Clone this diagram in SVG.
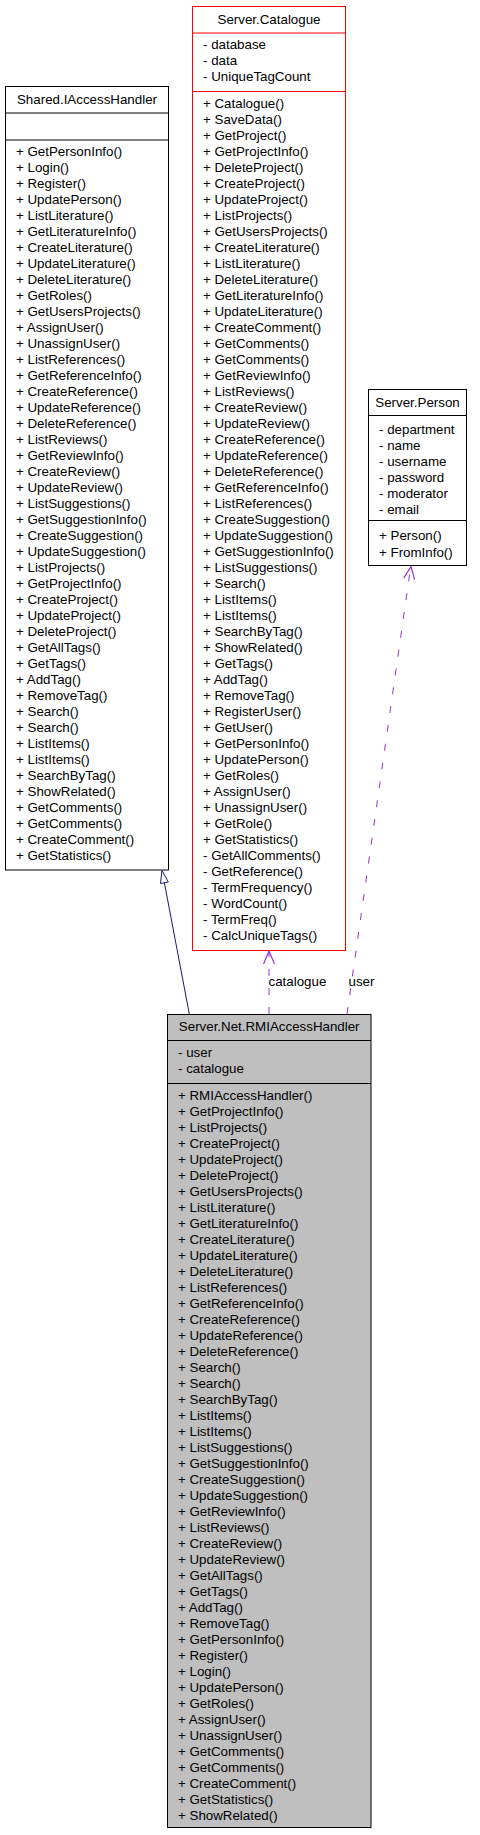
<svg xmlns="http://www.w3.org/2000/svg" width="480" height="1835" viewBox="0 0 480 1835">
<style>
text{font-family:"Liberation Sans",Arial,sans-serif;font-size:13.33px;fill:#000}
.t{text-anchor:middle}
.box{fill:#fff;stroke:#000;stroke-width:1}
.red{fill:#fff;stroke:#ff0000;stroke-width:1}
.gray{fill:#bfbfbf;stroke:#000;stroke-width:1}
.sep{stroke:#000;stroke-width:1}
.rsep{stroke:#ff0000;stroke-width:1}
.inh{stroke:#191970;stroke-width:1;fill:none}
.dep{stroke:#9a32cd;stroke-width:1;fill:none;stroke-dasharray:7,12}
.head{stroke:#9a32cd;stroke-width:1.2;fill:none}
</style>
<rect width="480" height="1835" fill="#fff"/>
<g id="connectors">
<path class="inh" d="M189.3,1014 L164.4,882.8"/>
<polygon points="162,870.5 168.3,882 160.5,883.5" fill="#fff" stroke="#191970" stroke-width="1"/>
<path class="dep" d="M269,1014 L269,952"/>
<polyline class="head" points="263.5,964 269,951 274.5,964"/>
<path class="dep" d="M347,1014 L410.5,568"/>
<polyline class="head" points="403.7,578.1 411,566.5 414.6,579.7"/>
<text x="268.5" y="986">catalogue</text>
<text x="348.5" y="986">user</text>
</g>
<g id="IAccessHandler">
<rect class="box" x="5.5" y="86.5" width="163" height="783.5"/>
<line class="sep" x1="5.5" y1="113" x2="168.5" y2="113"/>
<line class="sep" x1="5.5" y1="140" x2="168.5" y2="140"/>
<text class="t" x="87" y="104">Shared.IAccessHandler</text>
<text x="16" y="156">+ GetPersonInfo()</text>
<text x="16" y="172">+ Login()</text>
<text x="16" y="188">+ Register()</text>
<text x="16" y="204">+ UpdatePerson()</text>
<text x="16" y="220">+ ListLiterature()</text>
<text x="16" y="236">+ GetLiteratureInfo()</text>
<text x="16" y="252">+ CreateLiterature()</text>
<text x="16" y="268">+ UpdateLiterature()</text>
<text x="16" y="284">+ DeleteLiterature()</text>
<text x="16" y="300">+ GetRoles()</text>
<text x="16" y="316">+ GetUsersProjects()</text>
<text x="16" y="332">+ AssignUser()</text>
<text x="16" y="348">+ UnassignUser()</text>
<text x="16" y="364">+ ListReferences()</text>
<text x="16" y="380">+ GetReferenceInfo()</text>
<text x="16" y="396">+ CreateReference()</text>
<text x="16" y="412">+ UpdateReference()</text>
<text x="16" y="428">+ DeleteReference()</text>
<text x="16" y="444">+ ListReviews()</text>
<text x="16" y="460">+ GetReviewInfo()</text>
<text x="16" y="476">+ CreateReview()</text>
<text x="16" y="492">+ UpdateReview()</text>
<text x="16" y="508">+ ListSuggestions()</text>
<text x="16" y="524">+ GetSuggestionInfo()</text>
<text x="16" y="540">+ CreateSuggestion()</text>
<text x="16" y="556">+ UpdateSuggestion()</text>
<text x="16" y="572">+ ListProjects()</text>
<text x="16" y="588">+ GetProjectInfo()</text>
<text x="16" y="604">+ CreateProject()</text>
<text x="16" y="620">+ UpdateProject()</text>
<text x="16" y="636">+ DeleteProject()</text>
<text x="16" y="652">+ GetAllTags()</text>
<text x="16" y="668">+ GetTags()</text>
<text x="16" y="684">+ AddTag()</text>
<text x="16" y="700">+ RemoveTag()</text>
<text x="16" y="716">+ Search()</text>
<text x="16" y="732">+ Search()</text>
<text x="16" y="748">+ ListItems()</text>
<text x="16" y="764">+ ListItems()</text>
<text x="16" y="780">+ SearchByTag()</text>
<text x="16" y="796">+ ShowRelated()</text>
<text x="16" y="812">+ GetComments()</text>
<text x="16" y="828">+ GetComments()</text>
<text x="16" y="844">+ CreateComment()</text>
<text x="16" y="860">+ GetStatistics()</text>
</g>
<g id="Catalogue">
<rect class="red" x="192.5" y="6.5" width="153" height="944"/>
<line class="rsep" x1="192.5" y1="33" x2="345.5" y2="33"/>
<line class="rsep" x1="192.5" y1="91.5" x2="345.5" y2="91.5"/>
<text class="t" x="269" y="23.5">Server.Catalogue</text>
<text x="203" y="49">- database</text>
<text x="203" y="65">- data</text>
<text x="203" y="81">- UniqueTagCount</text>
<text x="203" y="108">+ Catalogue()</text>
<text x="203" y="124">+ SaveData()</text>
<text x="203" y="140">+ GetProject()</text>
<text x="203" y="156">+ GetProjectInfo()</text>
<text x="203" y="172">+ DeleteProject()</text>
<text x="203" y="188">+ CreateProject()</text>
<text x="203" y="204">+ UpdateProject()</text>
<text x="203" y="220">+ ListProjects()</text>
<text x="203" y="236">+ GetUsersProjects()</text>
<text x="203" y="252">+ CreateLiterature()</text>
<text x="203" y="268">+ ListLiterature()</text>
<text x="203" y="284">+ DeleteLiterature()</text>
<text x="203" y="300">+ GetLiteratureInfo()</text>
<text x="203" y="316">+ UpdateLiterature()</text>
<text x="203" y="332">+ CreateComment()</text>
<text x="203" y="348">+ GetComments()</text>
<text x="203" y="364">+ GetComments()</text>
<text x="203" y="380">+ GetReviewInfo()</text>
<text x="203" y="396">+ ListReviews()</text>
<text x="203" y="412">+ CreateReview()</text>
<text x="203" y="428">+ UpdateReview()</text>
<text x="203" y="444">+ CreateReference()</text>
<text x="203" y="460">+ UpdateReference()</text>
<text x="203" y="476">+ DeleteReference()</text>
<text x="203" y="492">+ GetReferenceInfo()</text>
<text x="203" y="508">+ ListReferences()</text>
<text x="203" y="524">+ CreateSuggestion()</text>
<text x="203" y="540">+ UpdateSuggestion()</text>
<text x="203" y="556">+ GetSuggestionInfo()</text>
<text x="203" y="572">+ ListSuggestions()</text>
<text x="203" y="588">+ Search()</text>
<text x="203" y="604">+ ListItems()</text>
<text x="203" y="620">+ ListItems()</text>
<text x="203" y="636">+ SearchByTag()</text>
<text x="203" y="652">+ ShowRelated()</text>
<text x="203" y="668">+ GetTags()</text>
<text x="203" y="684">+ AddTag()</text>
<text x="203" y="700">+ RemoveTag()</text>
<text x="203" y="716">+ RegisterUser()</text>
<text x="203" y="732">+ GetUser()</text>
<text x="203" y="748">+ GetPersonInfo()</text>
<text x="203" y="764">+ UpdatePerson()</text>
<text x="203" y="780">+ GetRoles()</text>
<text x="203" y="796">+ AssignUser()</text>
<text x="203" y="812">+ UnassignUser()</text>
<text x="203" y="828">+ GetRole()</text>
<text x="203" y="844">+ GetStatistics()</text>
<text x="203" y="860">- GetAllComments()</text>
<text x="203" y="876">- GetReference()</text>
<text x="203" y="892">- TermFrequency()</text>
<text x="203" y="908">- WordCount()</text>
<text x="203" y="924">- TermFreq()</text>
<text x="203" y="940">- CalcUniqueTags()</text>
</g>
<g id="Person">
<rect class="box" x="368.5" y="389.5" width="98" height="176"/>
<line class="sep" x1="368.5" y1="415.5" x2="466.5" y2="415.5"/>
<line class="sep" x1="368.5" y1="520.5" x2="466.5" y2="520.5"/>
<text class="t" x="417.5" y="407">Server.Person</text>
<text x="379" y="434">- department</text>
<text x="379" y="450">- name</text>
<text x="379" y="466">- username</text>
<text x="379" y="482">- password</text>
<text x="379" y="498">- moderator</text>
<text x="379" y="514">- email</text>
<text x="379" y="540">+ Person()</text>
<text x="379" y="557">+ FromInfo()</text>
</g>
<g id="RMIAccessHandler">
<rect class="gray" x="167.5" y="1014.5" width="203.5" height="813"/>
<line class="sep" x1="167.5" y1="1040.5" x2="371" y2="1040.5"/>
<line class="sep" x1="167.5" y1="1083.5" x2="371" y2="1083.5"/>
<text class="t" x="269.2" y="1031">Server.Net.RMIAccessHandler</text>
<text x="178" y="1057">- user</text>
<text x="178" y="1073">- catalogue</text>
<text x="178" y="1100">+ RMIAccessHandler()</text>
<text x="178" y="1116">+ GetProjectInfo()</text>
<text x="178" y="1132">+ ListProjects()</text>
<text x="178" y="1148">+ CreateProject()</text>
<text x="178" y="1164">+ UpdateProject()</text>
<text x="178" y="1180">+ DeleteProject()</text>
<text x="178" y="1196">+ GetUsersProjects()</text>
<text x="178" y="1212">+ ListLiterature()</text>
<text x="178" y="1228">+ GetLiteratureInfo()</text>
<text x="178" y="1244">+ CreateLiterature()</text>
<text x="178" y="1260">+ UpdateLiterature()</text>
<text x="178" y="1276">+ DeleteLiterature()</text>
<text x="178" y="1292">+ ListReferences()</text>
<text x="178" y="1308">+ GetReferenceInfo()</text>
<text x="178" y="1324">+ CreateReference()</text>
<text x="178" y="1340">+ UpdateReference()</text>
<text x="178" y="1356">+ DeleteReference()</text>
<text x="178" y="1372">+ Search()</text>
<text x="178" y="1388">+ Search()</text>
<text x="178" y="1404">+ SearchByTag()</text>
<text x="178" y="1420">+ ListItems()</text>
<text x="178" y="1436">+ ListItems()</text>
<text x="178" y="1452">+ ListSuggestions()</text>
<text x="178" y="1468">+ GetSuggestionInfo()</text>
<text x="178" y="1484">+ CreateSuggestion()</text>
<text x="178" y="1500">+ UpdateSuggestion()</text>
<text x="178" y="1516">+ GetReviewInfo()</text>
<text x="178" y="1532">+ ListReviews()</text>
<text x="178" y="1548">+ CreateReview()</text>
<text x="178" y="1564">+ UpdateReview()</text>
<text x="178" y="1580">+ GetAllTags()</text>
<text x="178" y="1596">+ GetTags()</text>
<text x="178" y="1612">+ AddTag()</text>
<text x="178" y="1628">+ RemoveTag()</text>
<text x="178" y="1644">+ GetPersonInfo()</text>
<text x="178" y="1660">+ Register()</text>
<text x="178" y="1676">+ Login()</text>
<text x="178" y="1692">+ UpdatePerson()</text>
<text x="178" y="1708">+ GetRoles()</text>
<text x="178" y="1724">+ AssignUser()</text>
<text x="178" y="1740">+ UnassignUser()</text>
<text x="178" y="1756">+ GetComments()</text>
<text x="178" y="1772">+ GetComments()</text>
<text x="178" y="1788">+ CreateComment()</text>
<text x="178" y="1804">+ GetStatistics()</text>
<text x="178" y="1820">+ ShowRelated()</text>
</g>
</svg>
